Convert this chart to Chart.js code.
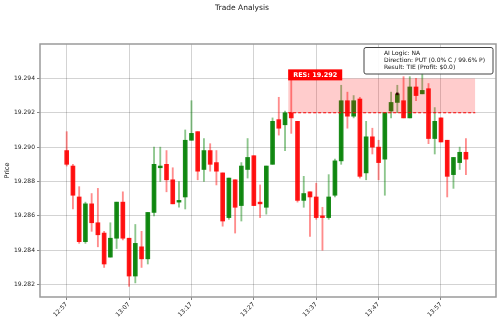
<!DOCTYPE html>
<html>
<head>
<meta charset="utf-8">
<script src="https://cdn.jsdelivr.net/npm/chart.js@4/dist/chart.umd.min.js"></script>
<style>
  html, body { margin: 0; padding: 0; background: #fff; }
</style>
</head>
<body>
<canvas id="chart" width="500" height="324"></canvas>
<script>
"use strict";

// candles are one minute apart, x = minutes after 12:57
const START_MINUTE = 12 * 60 + 57;

const OPEN = [
    19.2898, 19.2889, 19.2871, 19.2845, 19.2867, 19.2856, 19.2850, 19.2836, 19.2847, 19.2868,
    19.2847, 19.2825, 19.2842, 19.2835, 19.2862, 19.2888, 19.2890, 19.2881, 19.2868, 19.2871,
    19.2904, 19.2909, 19.2887, 19.2898, 19.2891, 19.2885, 19.2859, 19.2881, 19.2866, 19.2887,
    19.2895, 19.2868, 19.2865, 19.2890, 19.2916, 19.2913, 19.2920, 19.2915, 19.2869, 19.2874,
    19.2871, 19.2860, 19.2859, 19.2872, 19.2892, 19.2927, 19.2918, 19.2928, 19.2885, 19.2906,
    19.2900, 19.2893, 19.2921, 19.2926, 19.2927, 19.2917, 19.2935, 19.2931, 19.2934, 19.2905,
    19.2917, 19.2904, 19.2884, 19.2891, 19.2897
];
const HIGH = [
    19.2909, 19.2890, 19.2877, 19.2868, 19.2873, 19.2876, 19.2851, 19.2856, 19.2868, 19.2874,
    19.2847, 19.2855, 19.2851, 19.2862, 19.2900, 19.2900, 19.2898, 19.2888, 19.2880, 19.2910,
    19.2927, 19.2909, 19.2905, 19.2902, 19.2898, 19.2885, 19.2882, 19.2881, 19.2891, 19.2905,
    19.2895, 19.2878, 19.2889, 19.2917, 19.2929, 19.2921, 19.2942, 19.2915, 19.2883, 19.2874,
    19.2879, 19.2865, 19.2884, 19.2893, 19.2936, 19.2932, 19.2930, 19.2929, 19.2915, 19.2911,
    19.2904, 19.2920, 19.2932, 19.2936, 19.2941, 19.2941, 19.2940, 19.2943, 19.2937, 19.2923,
    19.2917, 19.2904, 19.2894, 19.2900, 19.2905
];
const LOW = [
    19.2889, 19.2864, 19.2844, 19.2844, 19.2851, 19.2842, 19.2830, 19.2836, 19.2841, 19.2846,
    19.2819, 19.2821, 19.2830, 19.2832, 19.2860, 19.2880, 19.2874, 19.2867, 19.2865, 19.2864,
    19.2904, 19.2881, 19.2880, 19.2886, 19.2878, 19.2854, 19.2858, 19.2850, 19.2857, 19.2882,
    19.2866, 19.2859, 19.2861, 19.2890, 19.2907, 19.2898, 19.2908, 19.2868, 19.2865, 19.2848,
    19.2858, 19.2840, 19.2858, 19.2871, 19.2890, 19.2911, 19.2917, 19.2882, 19.2881, 19.2896,
    19.2881, 19.2872, 19.2917, 19.2920, 19.2917, 19.2917, 19.2927, 19.2931, 19.2902, 19.2896,
    19.2903, 19.2871, 19.2876, 19.2887, 19.2884
];
const CLOSE = [
    19.2890, 19.2872, 19.2845, 19.2867, 19.2856, 19.2849, 19.2832, 19.2847, 19.2868, 19.2847,
    19.2825, 19.2844, 19.2835, 19.2862, 19.2890, 19.2889, 19.2881, 19.2867, 19.2869, 19.2904,
    19.2908, 19.2886, 19.2898, 19.2890, 19.2886, 19.2857, 19.2882, 19.2865, 19.2889, 19.2894,
    19.2866, 19.2867, 19.2889, 19.2915, 19.2911, 19.2920, 19.2917, 19.2869, 19.2873, 19.2871,
    19.2859, 19.2859, 19.2871, 19.2892, 19.2927, 19.2918, 19.2927, 19.2883, 19.2906, 19.2900,
    19.2891, 19.2920, 19.2926, 19.2931, 19.2917, 19.2935, 19.2930, 19.2933, 19.2905, 19.2915,
    19.2903, 19.2883, 19.2894, 19.2897, 19.2893
];

const RES_LEVEL = 19.292;
const ZONE_TOP = 19.294;
const ZONE_START = 35.5;
const ZONE_END = 65.5;

const ENTRY_X = 53;
const ENTRY_PRICE = 19.2931;

const Y_TICKS = [19.282, 19.284, 19.286, 19.288, 19.290, 19.292, 19.294];
const X_TICKS = [0, 10, 20, 30, 40, 50, 60];
const X_TICK_LABELS = ['12:57', '13:07', '13:17', '13:27', '13:37', '13:47', '13:57'];

const INFO_LINES = [
    'AI Logic: NA',
    'Direction: PUT (0.0% C / 99.6% P)',
    'Result: TIE (Profit: $0.0)'
];

const FONT = 'DejaVu Sans';
const UP_BODY = 'rgba(0, 128, 0, 0.9)';
const DOWN_BODY = 'rgba(255, 0, 0, 0.9)';
const UP_WICK = 'rgba(0, 128, 0, 0.45)';
const DOWN_WICK = 'rgba(255, 0, 0, 0.45)';
const GRID = 'rgba(0, 0, 0, 0.22)';


const isUp = OPEN.map((o, i) => CLOSE[i] >= o);

const bodies = OPEN.map((o, i) => ({ x: i, y: [o, CLOSE[i]] }));
const wicks = OPEN.map((o, i) => ({ x: i, y: [LOW[i], HIGH[i]] }));


const framePlugin = {
    id: 'frame',
    beforeDatasetsDraw(chart) {
        const { ctx, chartArea: a } = chart;
        ctx.save();
        ctx.strokeStyle = '#9a9a9a';
        ctx.lineWidth = 1.5;
        ctx.strokeRect(a.left, a.top, a.right - a.left, a.bottom - a.top);
        ctx.restore();
    },
    afterDraw(chart) {
        const { ctx } = chart;
        ctx.save();
        ctx.fillStyle = '#222';
        ctx.font = '7.5px "' + FONT + '"';
        ctx.textAlign = 'center';
        ctx.textBaseline = 'middle';
        ctx.fillText('Trade Analysis', 242, 8.5);
        ctx.restore();
    }
};

const annotationPlugin = {
    id: 'annotations',
    afterDatasetsDraw(chart) {
        const { ctx, chartArea: a, scales } = chart;
        ctx.save();

        // resistance label
        const lx = scales.x.getPixelForValue(ZONE_START);
        const ly = scales.y.getPixelForValue(ZONE_TOP);
        ctx.font = 'bold 6.5px "' + FONT + '"';
        const label = 'RES: ' + RES_LEVEL.toFixed(3);
        const w = ctx.measureText(label).width + 10;
        ctx.fillStyle = 'rgb(255, 0, 0)';
        ctx.fillRect(lx, ly - 9, w, 11);
        ctx.fillStyle = '#fff';
        ctx.textBaseline = 'middle';
        ctx.fillText(label, lx + 5, ly - 3.5);

        // info box
        const bw = 129, bh = 26.5;
        const bx = a.right - 3 - bw, by = a.top + 3.5;
        ctx.fillStyle = 'rgba(255,255,255,0.9)';
        ctx.strokeStyle = '#444';
        ctx.lineWidth = 1;
        ctx.beginPath();
        ctx.roundRect(bx, by, bw, bh, 2);
        ctx.fill();
        ctx.stroke();
        ctx.fillStyle = '#111';
        ctx.font = '6px "' + FONT + '"';
        INFO_LINES.forEach((t, k) => ctx.fillText(t, bx + 20, by + 6.3 + k * 6.7));

        ctx.restore();
    }
};


const ctx = document.getElementById('chart').getContext('2d');
const chart = new Chart(ctx, {
    type: 'bar',
    data: {
        datasets: [
            {
                type: 'line',
                data: [{ x: ZONE_START, y: ZONE_TOP }, { x: ZONE_END, y: ZONE_TOP }],
                borderWidth: 0,
                pointRadius: 0,
                backgroundColor: 'rgba(255, 0, 0, 0.2)',
                fill: { value: RES_LEVEL },
                order: 0
            },
            {
                type: 'line',
                data: [{ x: ZONE_START, y: RES_LEVEL }, { x: ZONE_END, y: RES_LEVEL }],
                borderColor: 'rgb(255, 0, 0)',
                borderWidth: 1.2,
                borderDash: [3, 2],
                pointRadius: 0,
                fill: false,
                order: 0
            },
            {
                type: 'scatter',
                data: [{ x: ENTRY_X, y: ENTRY_PRICE }],
                pointStyle: 'rect',
                pointRadius: 1.8,
                backgroundColor: '#000',
                borderWidth: 0,
                order: 1
            },
            {
                data: bodies,
                backgroundColor: isUp.map(u => u ? UP_BODY : DOWN_BODY),
                borderWidth: 0,
                barThickness: 4,
                grouped: false,
                order: 2
            },
            {
                data: wicks,
                backgroundColor: isUp.map(u => u ? UP_WICK : DOWN_WICK),
                borderWidth: 0,
                barThickness: 1.2,
                grouped: false,
                order: 3
            }
        ]
    },
    options: {
        responsive: false,
        animation: false,
        layout: { padding: { top: 44, right: 4, left: 0, bottom: 0 } },
        scales: {
            x: {
                type: 'linear',
                offset: false,
                min: -4.28,
                max: 68.82,
                grid: {
                    offset: false,
                    color: GRID,
                    lineWidth: 0.8,
                    borderDash: [1.5, 1.5],
                    tickLength: 3,
                    tickColor: '#666',
                    tickBorderDash: []
                },
                border: { display: false },
                afterBuildTicks: s => { s.ticks = X_TICKS.map(v => ({ value: v })); },
                afterFit: s => { s.height = 27; },
                ticks: {
                    minRotation: 45,
                    maxRotation: 45,
                    padding: 1,
                    color: '#222',
                    font: { family: FONT, size: 6 },
                    callback: v => X_TICK_LABELS[X_TICKS.indexOf(v)]
                }
            },
            y: {
                min: 19.28128,
                max: 19.296,
                grid: {
                    color: GRID,
                    lineWidth: 0.8,
                    borderDash: [1.5, 1.5],
                    tickLength: 3,
                    tickColor: '#666',
                    tickBorderDash: []
                },
                border: { display: false },
                afterBuildTicks: s => { s.ticks = Y_TICKS.map(v => ({ value: v })); },
                afterFit: s => { s.width = 40; },
                title: {
                    display: true,
                    text: 'Price',
                    color: '#222',
                    font: { family: FONT, size: 6.5 },
                    padding: { top: 3, bottom: 0 }
                },
                ticks: {
                    padding: 2,
                    color: '#222',
                    font: { family: FONT, size: 6 },
                    callback: v => v.toFixed(3)
                }
            }
        },
        plugins: {
            legend: { display: false },
            tooltip: { enabled: false },
            title: { display: false }
        }
    },
    plugins: [framePlugin, annotationPlugin]
});
</script>
</body>
</html>
